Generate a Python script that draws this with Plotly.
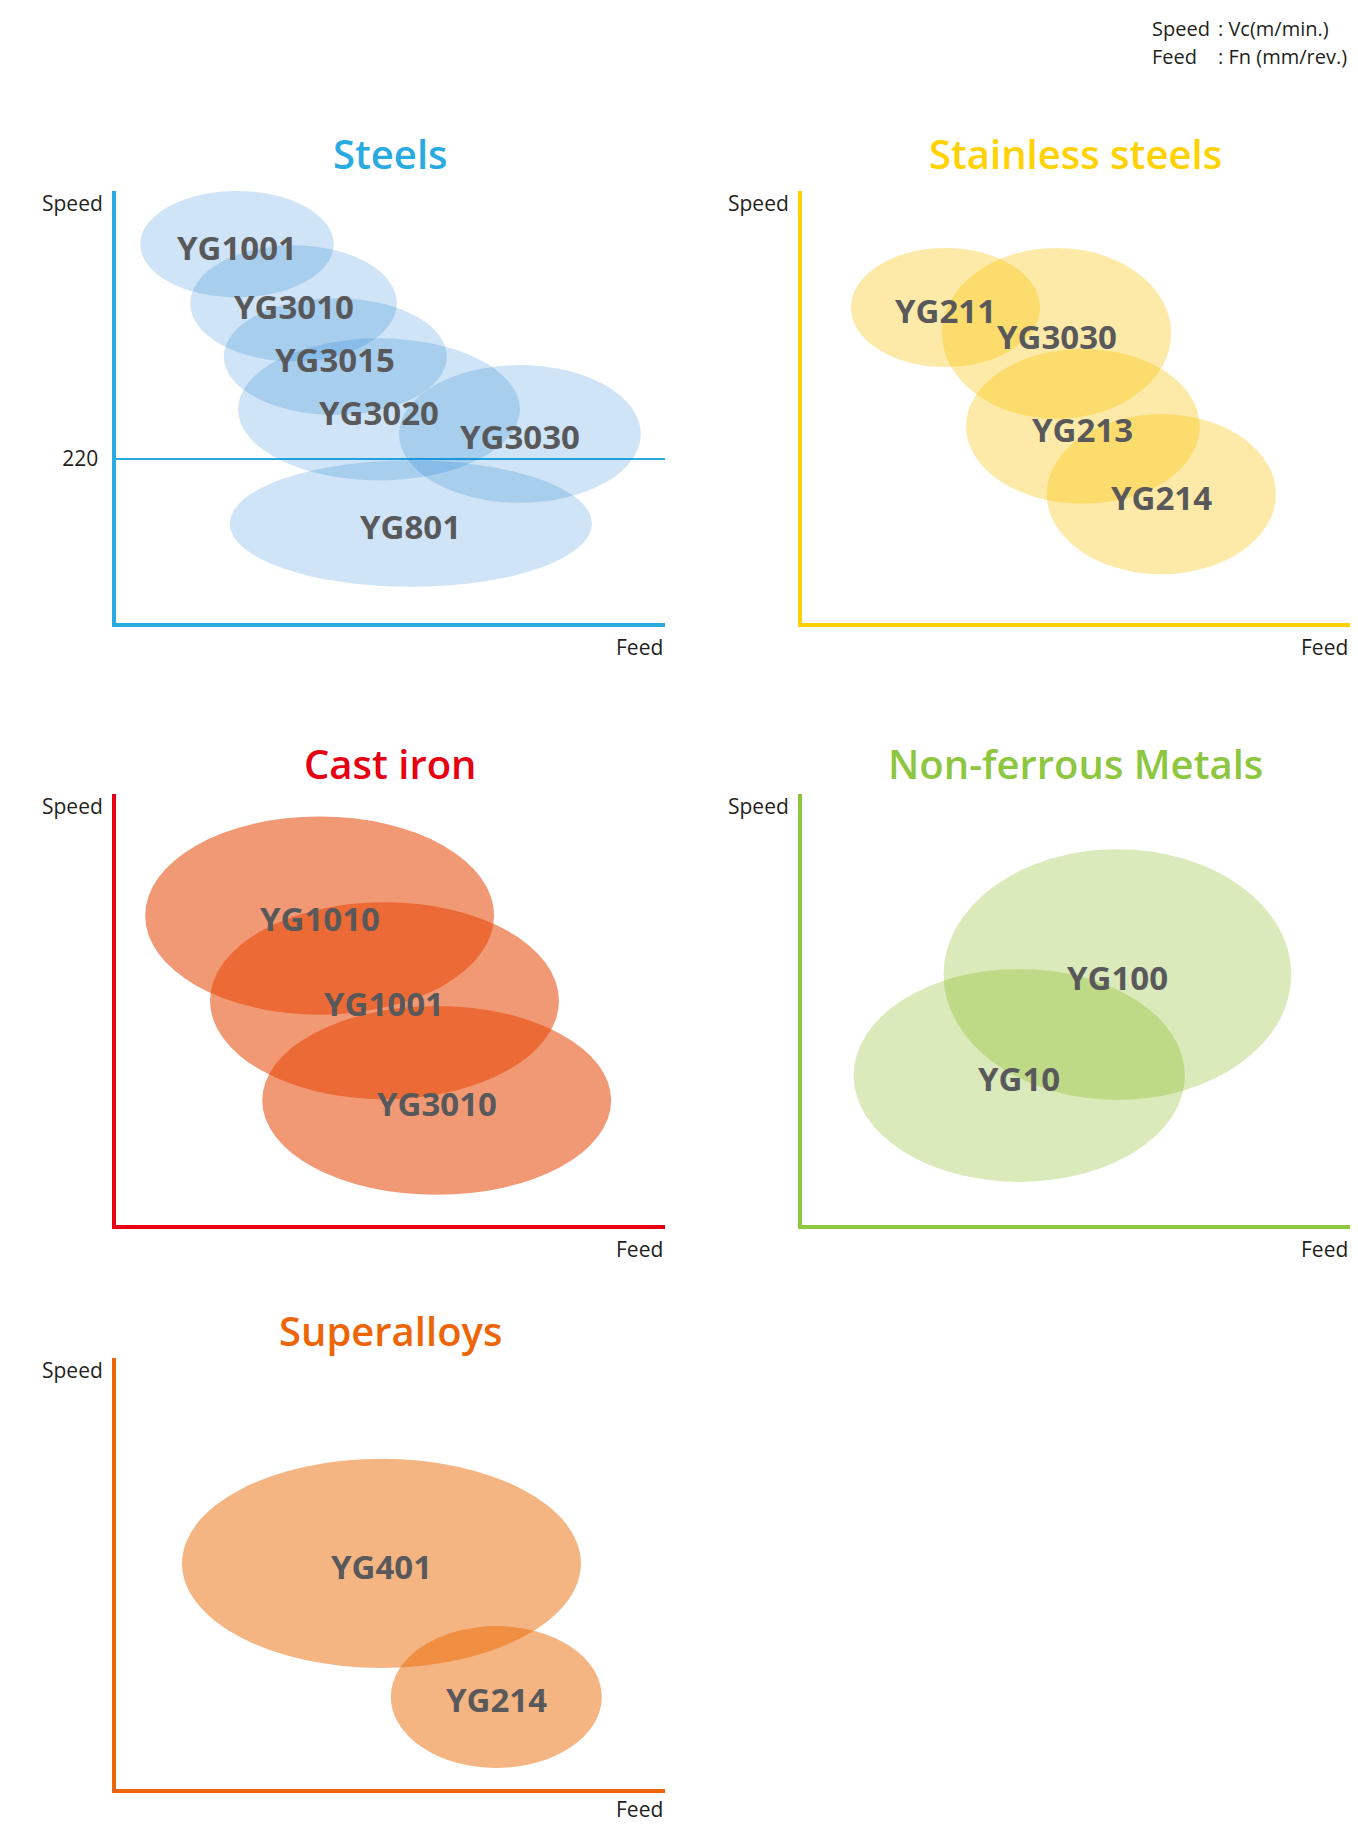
import plotly.graph_objects as go

W, H = 1358, 1825

# ---- data (feed / speed ranges of each grade) ----
steels_grades = ["YG1001", "YG3010", "YG3015", "YG3020", "YG3030", "YG801"]
steels_feed_lo = [4.5, 13.6, 19.7, 22.3, 51.6, 20.8]
steels_feed_hi = [39.7, 51.2, 60.3, 73.6, 95.6, 86.7]
steels_speed_lo = [437, 351, 279, 191, 161, 48]
steels_speed_hi = [580, 507, 436, 382, 346, 218]
steels_ref_speed = [220]
steels_ref_label = ["220"]

stainless_grades = ["YG211", "YG3030", "YG213", "YG214"]
stainless_feed_lo = [9.0, 25.6, 30.0, 44.7]
stainless_feed_hi = [43.5, 67.4, 72.6, 86.5]
stainless_speed_lo = [59.2, 47.2, 27.5, 11.2]
stainless_speed_hi = [86.8, 86.8, 63.4, 48.3]

cast_grades = ["YG1010", "YG1001", "YG3010"]
cast_feed_lo = [5.4, 17.2, 26.7]
cast_feed_hi = [68.9, 80.7, 90.2]
cast_speed_lo = [48.8, 29.2, 7.0]
cast_speed_hi = [94.8, 74.9, 50.8]

nonfe_grades = ["YG100", "YG10"]
nonfe_feed_lo = [25.9, 9.5]
nonfe_feed_hi = [89.3, 69.9]
nonfe_speed_lo = [29.0, 10.0]
nonfe_speed_hi = [87.2, 59.4]

super_grades = ["YG401", "YG214"]
super_feed_lo = [12.1, 50.1]
super_feed_hi = [84.7, 88.5]
super_speed_lo = [28.1, 4.9]
super_speed_hi = [76.6, 37.8]

# ---- panels: title, colour, fill, pixel box (left, right, top, bottom), speed max ----
panels = [
    dict(title="Steels", color="#29ABE2", fill="rgba(0,111,208,0.19)",
         box=(115.5, 665, 191, 622.5), ymax=580, title_shift=37, feed_shift=-24,
         grades=steels_grades, flo=steels_feed_lo, fhi=steels_feed_hi,
         slo=steels_speed_lo, shi=steels_speed_hi),
    dict(title="Stainless steels", color="#FFD200", fill="rgba(252,194,0,0.34)",
         box=(801.5, 1350, 191, 622.5), ymax=100, title_shift=37, feed_shift=-24,
         grades=stainless_grades, flo=stainless_feed_lo, fhi=stainless_feed_hi,
         slo=stainless_speed_lo, shi=stainless_speed_hi),
    dict(title="Cast iron", color="#E60012", fill="rgba(229,67,0,0.54)",
         box=(115.5, 665, 794, 1225), ymax=100, title_shift=31, feed_shift=-24,
         grades=cast_grades, flo=cast_feed_lo, fhi=cast_feed_hi,
         slo=cast_speed_lo, shi=cast_speed_hi),
    dict(title="Non-ferrous Metals", color="#8DC63F", fill="rgba(120,177,0,0.27)",
         box=(801.5, 1350, 794, 1225), ymax=100, title_shift=31, feed_shift=-24,
         grades=nonfe_grades, flo=nonfe_feed_lo, fhi=nonfe_feed_hi,
         slo=nonfe_speed_lo, shi=nonfe_speed_hi),
    dict(title="Superalloys", color="#EC6608", fill="rgba(235,104,0,0.49)",
         box=(115.5, 665, 1358, 1789), ymax=100, title_shift=28, feed_shift=-20,
         grades=super_grades, flo=super_feed_lo, fhi=super_feed_hi,
         slo=super_speed_lo, shi=super_speed_hi),
]

SMALL = "Open Sans, sans-serif"
LABEL_GREY = "#59595B"
INK = "#231F20"

fig = go.Figure()
layout = dict(width=W, height=H, margin=dict(l=0, r=0, t=0, b=0),
              paper_bgcolor="white", plot_bgcolor="rgba(0,0,0,0)",
              showlegend=False)
shapes, annotations = [], []

for i, p in enumerate(panels):
    n = "" if i == 0 else str(i + 1)
    xa, ya = "x" + n, "y" + n
    left, right, top, bottom = p["box"]
    layout["xaxis" + n] = dict(
        domain=[left / W, right / W], range=[0, 100], anchor=ya,
        showline=True, linecolor=p["color"], linewidth=4,
        showgrid=False, zeroline=False, showticklabels=False, ticks="",
        fixedrange=True)
    yax = dict(
        domain=[1 - bottom / H, 1 - top / H], range=[0, p["ymax"]], anchor=xa,
        showline=True, linecolor=p["color"], linewidth=4,
        showgrid=False, zeroline=False, showticklabels=False, ticks="",
        fixedrange=True)
    if i == 0:
        yax.update(tickvals=steels_ref_speed, ticktext=steels_ref_label,
                   showticklabels=True, ticks="outside", ticklen=9,
                   tickcolor="rgba(0,0,0,0)",
                   tickfont=dict(family=SMALL, size=21, color=INK),
                   showgrid=True, gridcolor=p["color"], gridwidth=1.5)
    layout["yaxis" + n] = yax

    # fields of each grade
    for g, f0, f1, s0, s1 in zip(p["grades"], p["flo"], p["fhi"], p["slo"], p["shi"]):
        shapes.append(dict(type="circle", xref=xa, yref=ya,
                           x0=f0, x1=f1, y0=s0, y1=s1,
                           fillcolor=p["fill"], line=dict(width=0)))
        annotations.append(dict(xref=xa, yref=ya, x=(f0 + f1) / 2, y=(s0 + s1) / 2,
                                text=g, showarrow=False, yshift=-3,
                                font=dict(family="Open Sans", size=33, weight="bold",
                                          color=LABEL_GREY)))

    # title and axis names
    annotations.append(dict(xref=xa + " domain", yref=ya + " domain", x=0.5, y=1,
                            text=p["title"], showarrow=False, yshift=p["title_shift"],
                            xanchor="center", yanchor="middle",
                            font=dict(family="Open Sans", size=40, weight=600,
                                      color=p["color"])))
    annotations.append(dict(xref=xa + " domain", yref=ya + " domain", x=0, y=1,
                            text="Speed", showarrow=False, xshift=-11, yshift=-12,
                            xanchor="right", yanchor="middle",
                            font=dict(family=SMALL, size=21, color=INK)))
    annotations.append(dict(xref=xa + " domain", yref=ya + " domain", x=1, y=0,
                            text="Feed", showarrow=False, yshift=p["feed_shift"],
                            xanchor="right", yanchor="middle",
                            font=dict(family=SMALL, size=21, color=INK)))

# units note, top right
note_font = dict(family=SMALL, size=20, color=INK)
for txt, x, y in [("Speed", 1150, 29), (": Vc(m/min.)", 1216, 29),
                  ("Feed", 1150, 56), (": Fn (mm/rev.)", 1216, 56)]:
    annotations.append(dict(xref="paper", yref="paper", x=x / W, y=1 - y / H,
                            text=txt, showarrow=False, xanchor="left",
                            yanchor="middle", font=note_font))

layout["shapes"] = shapes
layout["annotations"] = annotations
fig.update_layout(**layout)

fig.write_html("out.html", config={"displayModeBar": False},
               post_script="document.body.style.margin='0';")
